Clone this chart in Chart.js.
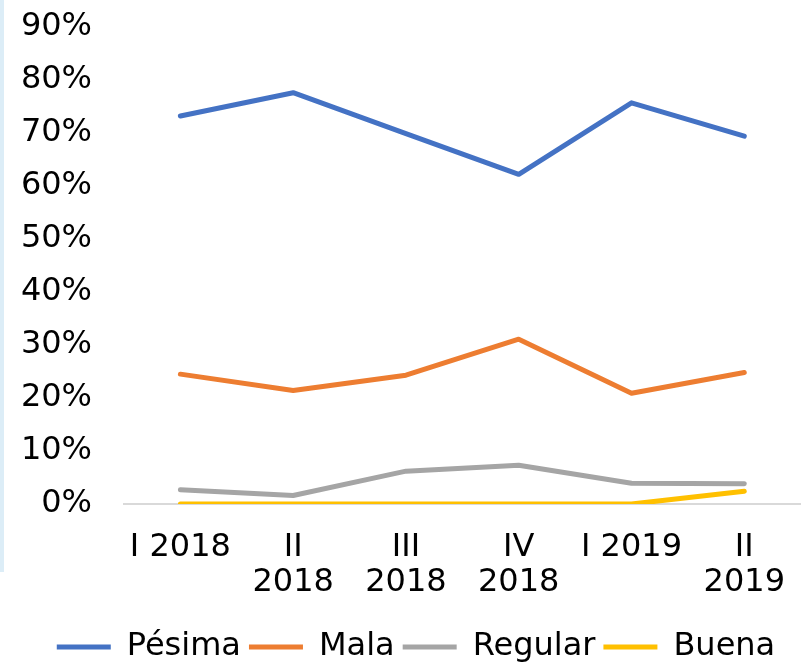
<!DOCTYPE html>
<html>
<head>
<meta charset="utf-8">
<script src="https://cdn.jsdelivr.net/npm/chart.js@4.4.0/dist/chart.umd.min.js"></script>
<style>
  html, body { margin: 0; padding: 0; background: #fff; overflow: hidden; }
  #wrap { position: relative; width: 811px; height: 663px; }
  #strip { position: absolute; left: 0; top: 0; width: 4px; height: 572px; background: #dcedf7; }
  canvas { position: absolute; left: 0; top: 0; }
</style>
</head>
<body>
<div id="wrap">
  <div id="strip"></div>
  <canvas id="lineChart" width="811" height="663"></canvas>
</div>
<script>
const periodos = [['I 2018'], ['II', '2018'], ['III', '2018'], ['IV', '2018'], ['I 2019'], ['II', '2019']];
const pesima = [73.2, 77.6, 69.9, 62.2, 75.7, 69.4];
const mala = [24.5, 21.4, 24.3, 31.1, 20.9, 24.8];
const regular = [2.7, 1.6, 6.2, 7.3, 3.9, 3.8];
const buena = [0, 0, 0, 0, 0, 2.4];
const ticksY = [0, 10, 20, 30, 40, 50, 60, 70, 80, 90];

const fuente = { family: 'DejaVu Sans', size: 32, lineHeight: 1.1 };

function serie(label, data, color) {
    return {
        label: label,
        data: data,
        borderColor: color,
        backgroundColor: color,
        borderWidth: 5,
        pointRadius: 0,
        tension: 0,
        borderCapStyle: 'round',
        borderJoinStyle: 'round'
    };
}

const ctx = document.getElementById('lineChart').getContext('2d');

const chart = new Chart(ctx, {
    type: 'line',
    data: {
        labels: periodos,
        datasets: [
            serie('Pésima', pesima, '#4472c4'),
            serie('Mala', mala, '#ed7d31'),
            serie('Regular', regular, '#a5a5a5'),
            serie('Buena', buena, '#ffc000')
        ]
    },
    options: {
        responsive: false,
        animation: false,
        layout: {
            padding: { top: 27, left: 21, right: 0, bottom: -10 }
        },
        scales: {
            x: {
                offset: true,
                grid: { display: false, drawTicks: false },
                border: { display: true, color: '#d9d9d9', width: 2 },
                ticks: {
                    color: '#000',
                    font: fuente,
                    padding: 26,
                    maxRotation: 0,
                    autoSkip: false
                },
                afterFit: (axis) => { axis.height = 119; }
            },
            y: {
                min: 0,
                max: 90,
                afterBuildTicks: (axis) => {
                    axis.ticks = ticksY.map(v => ({ value: v }));
                },
                grid: { display: false, drawTicks: false },
                border: { display: false },
                ticks: {
                    color: '#000',
                    font: fuente,
                    padding: 32,
                    callback: (v) => v + '%'
                },
                afterFit: (axis) => {
                    axis.width = 103;
                    axis.paddingTop = 0;
                    axis.paddingBottom = 0;
                }
            }
        },
        plugins: {
            legend: {
                position: 'bottom',
                labels: {
                    color: '#000',
                    font: fuente,
                    boxWidth: 54,
                    boxHeight: 5,
                    padding: 8,
                    generateLabels: (c) => {
                        const items = Chart.defaults.plugins.legend.labels.generateLabels(c);
                        items.forEach(it => { it.lineWidth = 0; });
                        return items;
                    }
                }
            },
            tooltip: { enabled: false }
        }
    }
});
</script>
</body>
</html>
